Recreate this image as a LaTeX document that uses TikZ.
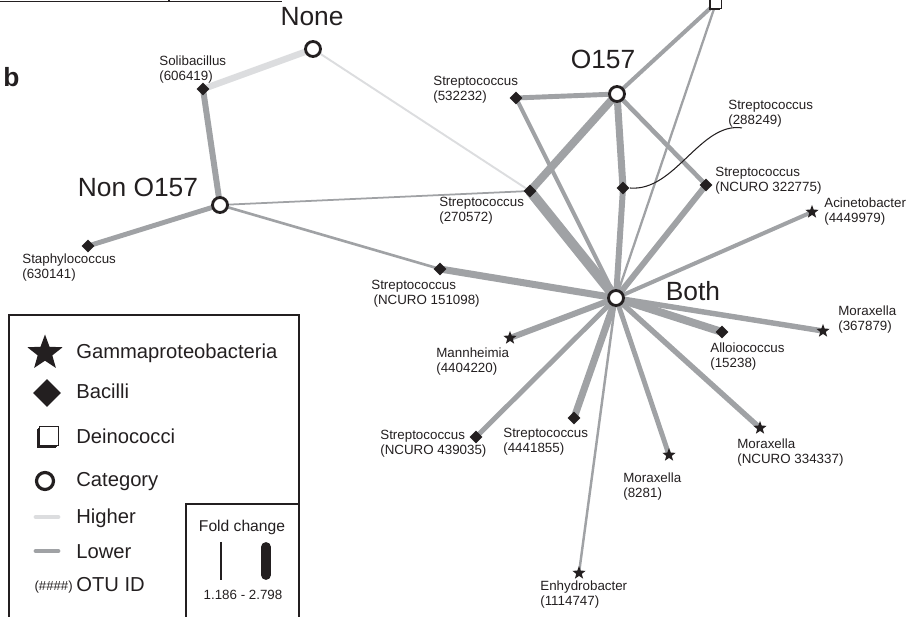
\documentclass[tikz,border=0pt]{standalone}
\usepackage{fontspec}
\setmainfont{Liberation Sans}
\usetikzlibrary{shapes.geometric,shadows,backgrounds}
\definecolor{ink}{HTML}{231F20}
\definecolor{lowgray}{HTML}{A0A2A5}
\definecolor{highgray}{HTML}{DCDDDF}
\tikzset{cat/.style={circle,draw=ink,fill=white,line width=1.6pt,minimum size=.3cm,inner sep=0pt},bac/.style={diamond,fill=ink,minimum size=.26cm,inner sep=0pt},gam/.style={star,star points=5,star point ratio=2.4,fill=ink,minimum size=.28cm,inner sep=0pt},dei/.style={rectangle,draw=ink,fill=white,line width=.6pt,minimum size=.22cm,inner sep=0pt,drop shadow={shadow xshift=-.8pt,shadow yshift=-.8pt,fill=ink,opacity=1}},otu/.style={font=\fontsize{7.6}{8.6}\selectfont,text=ink,align=left,inner sep=0pt,anchor=north west},catname/.style={font=\fontsize{15}{18}\selectfont,text=ink,inner sep=0pt},keytext/.style={font=\fontsize{11.5}{14}\selectfont,text=ink,inner sep=0pt,anchor=base west},lowedge/.style={draw=lowgray,line width=#1},highedge/.style={draw=highgray,line width=#1}}

\begin{document}
\begin{tikzpicture}[x=.02cm,y=-.02cm]
\useasboundingbox (0,0) rectangle (909,617);

\draw[ink,line width=.8pt] (0,1.5)--(282,1.5) (169,0)--(169,1.5);
\node[font=\bfseries\fontsize{15}{18}\selectfont,text=ink,inner sep=0pt,anchor=base west] (panel) at (3,87) {b};

\node[cat] (none) at (313,49) {};
\node[catname] at (312,17) {None};
\node[cat] (o157) at (617,94) {};
\node[catname] at (603,59) {O157};
\node[cat] (non) at (220,205) {};
\node[catname] at (138,187) {Non O157};
\node[cat] (both) at (616,298) {};
\node[catname] at (693,291) {Both};

\node[bac] (soli) at (203,89) {};
\node[otu] (soli-t) at (159,55) {Solibacillus\\(606419)};
\node[bac] (s532) at (516,98) {};
\node[otu] (s532-t) at (433,76) {Streptococcus\\(532232)};
\node[bac] (staph) at (88,246) {};
\node[otu] (staph-t) at (22,253) {Staphylococcus\\(630141)};
\node[bac] (s270) at (530,191) {};
\node[otu] (s270-t) at (439,197) {Streptococcus\\(270572)};
\node[bac] (s151) at (440,269) {};
\node[otu] (s151-t) at (371,280) {Streptococcus\\\,(NCURO 151098)};
\node[bac] (s288) at (623,188) {};
\node[otu] (s288-t) at (728,100) {Streptococcus\\(288249)};
\node[bac] (s322) at (706,185) {};
\node[otu] (s322-t) at (715,167) {Streptococcus\\(NCURO 322775)};
\node[bac] (allo) at (722,332) {};
\node[otu] (allo-t) at (710,342) {Alloiococcus\\(15238)};
\node[bac] (s439) at (476,437) {};
\node[otu] (s439-t) at (380,430) {Streptococcus\\(NCURO 439035)};
\node[bac] (s444) at (574,418) {};
\node[otu] (s444-t) at (503,428) {Streptococcus\\(4441855)};
\node[gam] (acin) at (812,212) {};
\node[otu] (acin-t) at (824,197) {Acinetobacter\\(4449979)};
\node[gam] (m367) at (823,331) {};
\node[otu] (m367-t) at (838,305) {Moraxella\\(367879)};
\node[gam] (m334) at (760,428) {};
\node[otu] (m334-t) at (737,438) {Moraxella\\(NCURO 334337)};
\node[gam] (m8281) at (669,455) {};
\node[otu] (m8281-t) at (623,472) {Moraxella\\(8281)};
\node[gam] (enh) at (579,573) {};
\node[otu] (enh-t) at (540,580) {Enhydrobacter\\(1114747)};
\node[gam] (mann) at (510,338) {};
\node[otu] (mann-t) at (436,347) {Mannheimia\\(4404220)};
\node[dei] (dein) at (716,3) {};

\begin{scope}[on background layer]
\draw[highedge=3.7pt] (none.center)--(soli.center);
\draw[highedge=1.1pt] (none.center)--(s270.center);
\draw[lowedge=3.4pt] (soli.center)--(non.center);
\draw[lowedge=2.8pt] (non.center)--(staph.center);
\draw[lowedge=1pt] (non.center)--(s270.center);
\draw[lowedge=1.5pt] (non.center)--(s151.center);
\draw[lowedge=4pt] (s151.center)--(both.center);
\draw[lowedge=2.8pt] (o157.center)--(s532.center);
\draw[lowedge=2.3pt] (o157.center)--(dein.center);
\draw[lowedge=1.3pt] (dein.center)--(both.center);
\draw[lowedge=4.5pt] (o157.center)--(s270.center);
\draw[lowedge=5.7pt] (s270.center)--(both.center);
\draw[lowedge=4pt] (o157.center)--(s288.center);
\draw[lowedge=3.4pt] (s288.center)--(both.center);
\draw[lowedge=2.6pt] (o157.center)--(s322.center);
\draw[lowedge=3.4pt] (s322.center)--(both.center);
\draw[lowedge=2.3pt] (s532.center)--(both.center);
\draw[lowedge=2.3pt] (both.center)--(acin.center);
\draw[lowedge=3.1pt] (both.center)--(m367.center);
\draw[lowedge=4.5pt] (both.center)--(allo.center);
\draw[lowedge=3.1pt] (both.center)--(m334.center);
\draw[lowedge=2.8pt] (both.center)--(m8281.center);
\draw[lowedge=1.4pt] (both.center)--(enh.center);
\draw[lowedge=4pt] (both.center)--(s444.center);
\draw[lowedge=2.8pt] (both.center)--(s439.center);
\draw[lowedge=3.4pt] (both.center)--(mann.center);
\end{scope}
\draw[ink,line width=.6pt] (s288.east) .. controls (675,192) and (700,122) .. ([xshift=.28cm]s288-t.south west);

\draw[ink,line width=.9pt] (9,617)--(9,315)--(299,315)--(299,617);
\node[gam,minimum size=.74cm] (k-gam) at (45,353) {};
\node[keytext] at (76,359) {Gammaproteobacteria};
\node[bac,minimum size=.56cm] (k-bac) at (47,393) {};
\node[keytext] at (76,399) {Bacilli};
\node[dei,minimum size=.38cm,line width=.9pt,drop shadow={shadow xshift=-1.5pt,shadow yshift=-1.5pt,fill=ink,opacity=1}] (k-dei) at (49,436) {};
\node[keytext] at (76,444) {Deinococci};
\node[cat,minimum size=.34cm,line width=1.8pt] (k-cat) at (45,481) {};
\node[keytext] at (76,487) {Category};
\draw[highedge=2.8pt,line cap=round] (36,517)--(58,517);
\node[keytext] at (76,524) {Higher};
\draw[lowedge=2.8pt,line cap=round] (36,551)--(58,551);
\node[keytext] at (76,559) {Lower};
\node[font=\fontsize{7.5}{9}\selectfont,text=ink,inner sep=0pt,anchor=base east] at (73,591) {(\#\#\#\#)};
\node[keytext] at (76,592) {OTU ID};
\draw[ink,line width=.8pt] (186,617)--(186,504)--(299,504);
\node[font=\fontsize{8.9}{11}\selectfont,text=ink,inner sep=0pt] (fold) at (242,527) {Fold change};
\draw[ink,line width=.7pt] (221,542)--(221,580);
\draw[ink,line width=5.6pt,line cap=round] (266,547)--(266,575);
\node[font=\fontsize{7.6}{9}\selectfont,text=ink,inner sep=0pt] (range) at (243,595) {1.186 - 2.798};
\end{tikzpicture}
\end{document}
